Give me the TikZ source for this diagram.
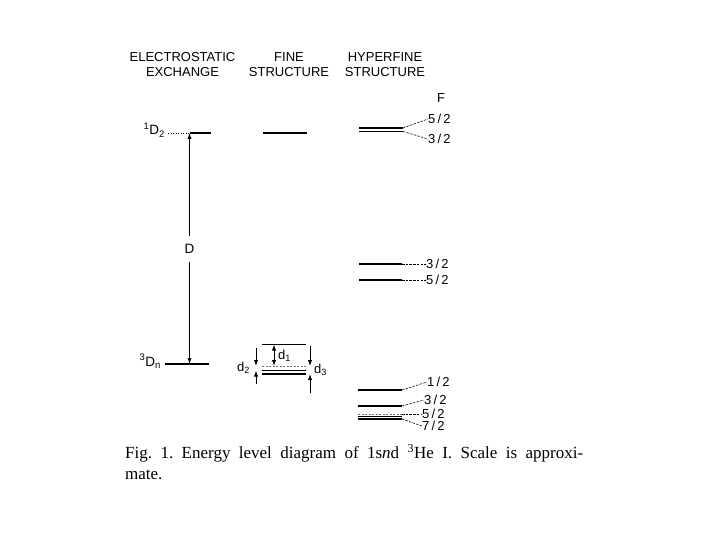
\documentclass[tikz,border=0pt]{standalone}
\usepackage{fontspec}
\setmainfont{Liberation Serif}
\newfontfamily\lettering{Liberation Sans}
\usetikzlibrary{arrows.meta,positioning}
\tikzset{
  hdr/.style    ={font=\lettering\fontsize{13}{15.5}\selectfont,align=center,inner sep=0pt},
  term/.style   ={font=\lettering\fontsize{13.5}{13.5}\selectfont,inner sep=0pt},
  dlbl/.style   ={font=\lettering\fontsize{13}{13}\selectfont,inner sep=0pt,anchor=base west},
  qn/.style     ={font=\lettering\fontsize{13}{13}\selectfont,inner sep=0pt,anchor=west},
  lvl/.style    ={draw=black,line width=1.5pt},
  lvlthin/.style={draw=black,line width=1.1pt},
  unp/.style    ={draw=black!55,line width=0.8pt,dash pattern=on 2pt off 1.5pt},
  dots/.style   ={draw=black,line width=0.6pt,dash pattern=on 1pt off 1.5pt},
  sep/.style    ={-{Latex[length=6pt,width=4.2pt]},draw=black,line width=0.8pt},
  ldr/.style    ={draw=black,line width=0.55pt,dash pattern=on 2.5pt off 1.2pt},
}
\newcommand{\fr}[2]{#1\kern2.2pt/\kern2.2pt#2}

\begin{document}
\begin{tikzpicture}[x=1pt,y=-1pt]
\useasboundingbox (0,0) rectangle (720,540);

% column heads
\node[hdr] (es)  at (182.5,64.7) {ELECTROSTATIC\\EXCHANGE};
\node[hdr] (fs)  at (289,64.7)   {FINE\\STRUCTURE};
\node[hdr] (hfs) at (385,64.7)   {HYPERFINE\\STRUCTURE};
\node[qn,anchor=center] (F) at (441,98) {F};

% electrostatic exchange
\node[term,anchor=base east] (sg) at (165,135) {\textsuperscript{1}D\textsubscript{2}};
\node[term,anchor=base east] (tr) at (161,366) {\textsuperscript{3}D\textsubscript{n}};
\coordinate (sgdot) at (168,133);
\coordinate (sgA)   at (189.5,133);
\coordinate (sgR)   at (211,133);
\coordinate (trL)   at (165,364);
\coordinate (trA)   at (189.5,364);
\coordinate (trR)   at (209,364);
\draw[dots] (sgdot) -- (sgA);
\draw[lvl]  (sgA) -- (sgR);
\draw[lvl]  (trL) -- (trR);
\node[term,fill=white,inner xsep=2pt,inner ysep=8pt] (D) at (189.5,249) {D};
\draw[sep] (D) -- (sgA);
\draw[sep] (D) -- (trA);

% fine structure
\coordinate (f1L) at (263,133);   \coordinate (f1R) at (307,133);
\coordinate (ftL) at (262,344.5); \coordinate (ftR) at (306,344.5);
\coordinate (fdL) at (262,366);   \coordinate (fdR) at (306,366);
\coordinate (fuL) at (262,370.5); \coordinate (fuR) at (306,370.5);
\coordinate (fwL) at (262,374);   \coordinate (fwR) at (306,374);
\draw[lvl]     (f1L) -- (f1R);
\draw[lvl]     (ftL) -- (ftR);
\draw[unp]     (fdL) -- (fdR);
\draw[lvlthin] (fuL) -- (fuR);
\draw[lvlthin] (fwL) -- (fwR);

% splittings d1, d2, d3
\coordinate (d1a) at (274,357);
\coordinate (d1b) at (274,357);
\coordinate (d2a) at (256,348);
\coordinate (d2b) at (256,384);
\coordinate (d3a) at (310,346);
\coordinate (d3b) at (310,393);
\draw[sep] (d1a) -- (d1a |- ftL);
\draw[sep] (d1b) -- (d1b |- fdL);
\draw[sep] (d2a) -- (d2a |- fdL);
\draw[sep] (d2b) -- (d2b |- fuL);
\draw[sep] (d3a) -- (d3a |- fdL);
\draw[sep] (d3b) -- (d3b |- fwL);
\node[dlbl] (d1) at (278,359) {d\textsubscript{1}};
\node[dlbl] (d2) at (237,371) {d\textsubscript{2}};
\node[dlbl] (d3) at (314,373) {d\textsubscript{3}};

% hyperfine structure, upper term
\coordinate (h1aL) at (359,128);   \coordinate (h1aR) at (403,128);
\coordinate (h1bL) at (359,131.5); \coordinate (h1bR) at (403,131.5);
\draw[lvlthin] (h1aL) -- (h1aR);
\draw[lvlthin] (h1bL) -- (h1bR);
\node[qn] (u52) at (428,119) {\fr52};
\node[qn] (u32) at (428,139) {\fr32};
\draw[ldr] (h1aR) -- (u52.west);
\draw[ldr] (h1bR) -- (u32.west);

% hyperfine structure, middle
\coordinate (h2aL) at (359,264); \coordinate (h2aR) at (402,264);
\coordinate (h2bL) at (359,280); \coordinate (h2bR) at (402,280);
\draw[lvlthin] (h2aL) -- (h2aR);
\draw[lvlthin] (h2bL) -- (h2bR);
\node[qn] (m32) at (426,264) {\fr32};
\node[qn] (m52) at (426,280) {\fr52};
\draw[ldr] (h2aR) -- (m32.west);
\draw[ldr] (h2bR) -- (m52.west);

% hyperfine structure, lower term
\coordinate (h3aL) at (358,390);   \coordinate (h3aR) at (402,390);
\coordinate (h3bL) at (358,406);   \coordinate (h3bR) at (402,406);
\coordinate (h3cL) at (358,414);   \coordinate (h3cR) at (402,414);
\coordinate (h3dL) at (358,416.5); \coordinate (h3dR) at (402,416.5);
\coordinate (h3eL) at (358,419);   \coordinate (h3eR) at (402,419);
\draw[lvlthin] (h3aL) -- (h3aR);
\draw[lvl]     (h3bL) -- (h3bR);
\draw[unp]     (h3cL) -- (h3cR);
\draw[lvlthin] (h3dL) -- (h3dR);
\draw[lvlthin] (h3eL) -- (h3eR);
\node[qn] (l12) at (427,382) {\fr12};
\node[qn] (l32) at (424,400) {\fr32};
\node[qn] (l52) at (422,414) {\fr52};
\node[qn] (l72) at (422,426) {\fr72};
\draw[ldr] (h3aR) -- (l12.west);
\draw[ldr] (h3bR) -- (l32.west);
\draw[ldr] (h3cR) -- (l52.west);
\draw[ldr] (h3eR) -- (l72.west);

% caption
\node[font=\fontsize{17}{21}\selectfont,text width=458pt,align=justify,
      inner sep=0pt,anchor=north west] (cap) at (125,444)
  {\frenchspacing Fig.~1. Energy level diagram of 1s\textit{n}d \textsuperscript{3}He I. Scale is approxi-\linebreak mate.};
\end{tikzpicture}
\end{document}
